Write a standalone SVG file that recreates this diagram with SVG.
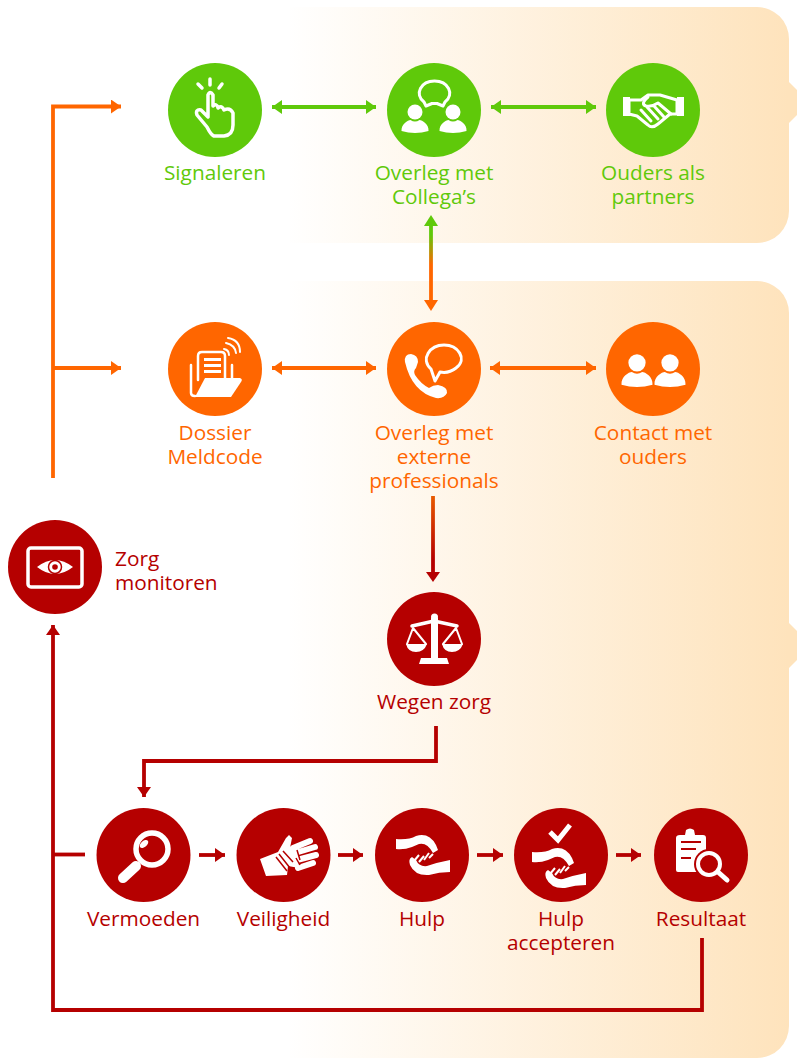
<svg xmlns="http://www.w3.org/2000/svg" width="797" height="1058" viewBox="0 0 797 1058">
<style>
text{font-family:"Open Sans","Noto Sans",sans-serif;font-size:20.800px;text-anchor:middle}
.g{fill:#5fc90a}.o{fill:#ff6600}.r{fill:#b50000}
.w{fill:#fff}.s{fill:none;stroke:#fff;stroke-width:3.500;stroke-linecap:round;stroke-linejoin:round}
.c{fill:none;stroke-width:3.800}
.cg{stroke:#5fc90a}.co{stroke:#ff6600}.cr{stroke:#b50000}
</style>
<defs>
<linearGradient id="bg" gradientUnits="userSpaceOnUse" x1="285" y1="0" x2="789" y2="0"><stop offset="0" stop-color="#fff"/><stop offset="1" stop-color="#fee3bc"/></linearGradient>
<linearGradient id="go" gradientUnits="userSpaceOnUse" x1="0" y1="235" x2="0" y2="265"><stop offset="0" stop-color="#5fc90a"/><stop offset="1" stop-color="#ff6600"/></linearGradient>
<linearGradient id="or" gradientUnits="userSpaceOnUse" x1="0" y1="496" x2="0" y2="560"><stop offset="0" stop-color="#e85a00"/><stop offset="1" stop-color="#b50000"/></linearGradient>
<marker id="ag" markerUnits="userSpaceOnUse" markerWidth="11" markerHeight="14" refX="10" refY="7" orient="auto-start-reverse"><path d="M0 0L10 7L0 14z" fill="#5fc90a"/></marker>
<marker id="ao" markerUnits="userSpaceOnUse" markerWidth="11" markerHeight="14" refX="10" refY="7" orient="auto-start-reverse"><path d="M0 0L10 7L0 14z" fill="#ff6600"/></marker>
<marker id="ar" markerUnits="userSpaceOnUse" markerWidth="11" markerHeight="14" refX="10" refY="7" orient="auto-start-reverse"><path d="M0 0L10 7L0 14z" fill="#b50000"/></marker>
<g id="person"><circle cx="0" cy="-8" r="7.500" class="w"/><path d="M-13.500 11C-14 4-7 0-4.500 0Q0 3 4.500 0C7 0 14 4 13.500 11Q0 15-13.500 11z" class="w"/></g>
<g id="hands">
<path class="w" d="M532 852Q545 853 552 849Q565 845 572 858L574 863L569 866Q563 855 555 857L548 860Q540 863 532 862z"/>
<path class="w" d="M586 873V885Q575 885 565 888Q551 889 546 878Q544 872 548 870L552 873Q555 880 563 879Q575 875 586 873z"/>
<path fill="none" stroke="#fff" stroke-width="2" d="M550 874L555 868M555 875L560 869M560 873L565 866M565 871L569 867"/>
</g>
</defs>
<g id="panels">
<path d="M290 7H757A32 32 0 0 1 789 39V82L797 90V115L789 123V211A32 32 0 0 1 757 243H290z" fill="url(#bg)"/>
<path d="M290 281H757A32 32 0 0 1 789 313V623L797 631V660L789 668V1026A32 32 0 0 1 757 1058H290z" fill="url(#bg)"/>
</g>
<g id="connectors">
<path class="c co" d="M53 478V106.500H121" marker-end="url(#ao)"/>
<path class="c co" d="M53 368H121" marker-end="url(#ao)"/>
<path class="c cg" d="M272 107H376" marker-start="url(#ag)" marker-end="url(#ag)"/>
<path class="c cg" d="M491 107H596" marker-start="url(#ag)" marker-end="url(#ag)"/>
<path class="c co" d="M272 368H376" marker-start="url(#ao)" marker-end="url(#ao)"/>
<path class="c co" d="M490 368H596" marker-start="url(#ao)" marker-end="url(#ao)"/>
<path fill="none" stroke="url(#go)" stroke-width="3.800" d="M431 226V300"/>
<path d="M431 215L438 226H424z" fill="#5fc90a"/><path d="M431 311L438 300H424z" fill="#ff6600"/>
<path fill="none" stroke="url(#or)" stroke-width="3.800" d="M433 496V572"/>
<path d="M433 582L440 572H426z" fill="#b50000"/>
<path class="c cr" d="M436 726V761H144V797" marker-end="url(#ar)"/>
<path class="c cr" d="M702 938V1010H53V625" marker-end="url(#ar)"/>
<path class="c cr" d="M53 854.500H85"/>
<path class="c cr" d="M199 855H225" marker-end="url(#ar)"/>
<path class="c cr" d="M338 855H363" marker-end="url(#ar)"/>
<path class="c cr" d="M477 855H503" marker-end="url(#ar)"/>
<path class="c cr" d="M616 855H641" marker-end="url(#ar)"/>
</g>
<g id="signaleren">
<circle cx="215" cy="110" r="47" class="g"/>
<path class="s" d="M207 127L197 115Q195 109 201 110L208 117V95Q210 90 213 95V106Q217 103 218 108Q222 105 224 110Q230 107 233 113V125Q233 135 224 136H214Q211 135 207 127z"/>
<path class="s" d="M210 79V85M198 84L202 88M222 84L219 88"/>
<text x="215" y="180" class="g">Signaleren</text>
</g>
<g id="overleg-collegas">
<circle cx="434" cy="110" r="47" class="g"/>
<path class="s" style="stroke-width:3" d="M424 102C414 94 421 81 434.500 81C448 81 455 94 445 102L443 106L437 103.500H432L426 106z"/>
<use href="#person" x="415" y="120"/><use href="#person" x="453" y="120"/>
<text x="434" y="180" class="g">Overleg met</text><text x="434" y="204" class="g">Collega’s</text>
</g>
<g id="ouders-partners">
<circle cx="653" cy="110" r="47" class="g"/>
<path class="w" d="M623 97H630V116H623zM677 97H684V116H677z"/>
<path class="s" style="stroke-width:3" d="M629 100L641 100L648 95H660L677 100V114H670L658 124Q652 129 648 125L637 116L629 114z"/>
<path class="s" style="stroke-width:3" d="M648 97Q640 104 646 106Q652 107 658 103L671 114M641 110L651 121M647 107L658 119M654 106L664 117"/>
<text x="653" y="180" class="g">Ouders als</text><text x="653" y="204" class="g">partners</text>
</g>
<g id="dossier">
<circle cx="215" cy="369" r="47" class="o"/>
<path class="s" style="stroke-width:2.500" d="M191 365V393Q191 396 195 396M198 380V356Q198 352 202 352H221Q225 352 225 356V378M232 365V378"/>
<path class="w" d="M204 358H221V361H204zM204 364H221V367H204zM204 370H221V373H204z"/>
<path class="w" d="M195 397L205 378H240Q243 379 241 382L231 397z"/>
<path class="s" style="stroke-width:2" d="M224 349Q229 350 229 355M226 343Q235 345 236 353M228 338Q240 340 240 352"/>
<text x="215" y="440" class="o">Dossier</text><text x="215" y="464" class="o">Meldcode</text>
</g>
<g id="overleg-extern">
<circle cx="434" cy="369" r="47" class="o"/>
<path class="w" d="M405 362Q404 354 411 354Q418 355 418 362L416 368Q413 371 415 375Q421 384 429 388Q433 385 438 385Q448 387 447 393Q444 399 436 398Q412 392 405 362z"/>
<path class="s" style="stroke-width:3" d="M431 369C420 359 430 345 444 345C458 345 468 359 456 368C451 372 445 373 440 372L435 381z"/>
<text x="434" y="440" class="o">Overleg met</text><text x="434" y="464" class="o">externe</text><text x="434" y="488" class="o">professionals</text>
</g>
<g id="contact-ouders">
<circle cx="653" cy="369" r="47" class="o"/>
<use href="#person" transform="translate(637 372) scale(1.150)"/><use href="#person" transform="translate(670 372) scale(1.150)"/>
<text x="653" y="440" class="o">Contact met</text><text x="653" y="464" class="o">ouders</text>
</g>
<g id="zorg-monitoren">
<circle cx="55" cy="567" r="47" class="r"/>
<rect x="28" y="548" width="54" height="39" rx="3" fill="none" stroke="#fff" stroke-width="3.500"/>
<path class="w" d="M37 567Q55 553 73 567Q55 581 37 567z"/><circle cx="55" cy="567" r="6.500" fill="none" stroke="#b50000" stroke-width="1.500"/><circle cx="55" cy="567" r="2.800" class="r"/>
<text x="115" y="566" class="r" style="text-anchor:start">Zorg</text><text x="115" y="590" class="r" style="text-anchor:start">monitoren</text>
</g>
<g id="wegen-zorg">
<circle cx="434" cy="639" r="47" class="r"/>
<circle cx="434.500" cy="617" r="3.500" class="w"/>
<path class="w" d="M431 618H438V659H431zM421 658H447L449 664H419z"/>
<path class="s" d="M412 626L434 621L457 626" style="stroke-width:3.500"/>
<path class="s" style="stroke-width:2" d="M413 628L407 644M413 628L426 644M456 628L443 644M456 628L462 644"/>
<path class="w" d="M406 644H427Q424 652 416 652Q408 652 406 644zM442 644H463Q460 652 452 652Q444 652 442 644z"/>
<text x="434" y="709" class="r">Wegen zorg</text>
</g>
<g id="vermoeden">
<circle cx="143.500" cy="855" r="47" class="r"/>
<circle cx="152" cy="849" r="16" fill="none" stroke="#fff" stroke-width="5.500"/>
<path d="M136 866L123 878" stroke="#fff" stroke-width="10" stroke-linecap="round"/>
<ellipse cx="144" cy="844" rx="5" ry="3" transform="rotate(-40 144 844)" class="w"/>
<text x="143.500" y="926" class="r">Vermoeden</text>
</g>
<g id="veiligheid">
<circle cx="283.500" cy="855" r="47" class="r"/>
<path class="w" d="M260 859L278 852L286 838L289 835L292 838L290 848L298 845L299 868L288 866L287 875L266 876z"/>
<path fill="none" stroke="#fff" stroke-width="6" stroke-linecap="round" d="M293 848L310 841M295 853L315 847M297 860L316 855M298 868L313 863"/>
<path fill="none" stroke="#b50000" stroke-width="1.500" d="M276 857L287 871M279 854L290 868M283 851L293 862M297 850L300 860M296 858L300 865"/>
<text x="283.500" y="926" class="r">Veiligheid</text>
</g>
<g id="hulp">
<circle cx="422" cy="855" r="47" class="r"/>
<use href="#hands" transform="translate(-136 -13)"/>
<text x="422" y="926" class="r">Hulp</text>
</g>
<g id="hulp-accepteren">
<circle cx="561" cy="855" r="47" class="r"/>
<path class="s" style="stroke-width:5;stroke-linecap:butt;stroke-linejoin:miter" d="M550 832L558 840L570 825"/>
<use href="#hands"/>
<text x="561" y="926" class="r">Hulp</text><text x="561" y="950" class="r">accepteren</text>
</g>
<g id="resultaat">
<circle cx="701" cy="855" r="47" class="r"/>
<path class="w" d="M676 838Q676 835 680 835H685L686 830Q690 827 694 830L695 835H703Q706 835 706 838V872H678Q676 872 676 870z"/>
<path d="M681 842H701M681 849H696M681 858H691" stroke="#b50000" stroke-width="2"/>
<circle cx="709" cy="864" r="15" class="r"/>
<circle cx="709" cy="864" r="11" fill="none" stroke="#fff" stroke-width="4"/>
<path d="M718 872L727 880" stroke="#fff" stroke-width="5" stroke-linecap="round"/>
<text x="701" y="926" class="r">Resultaat</text>
</g>
</svg>
